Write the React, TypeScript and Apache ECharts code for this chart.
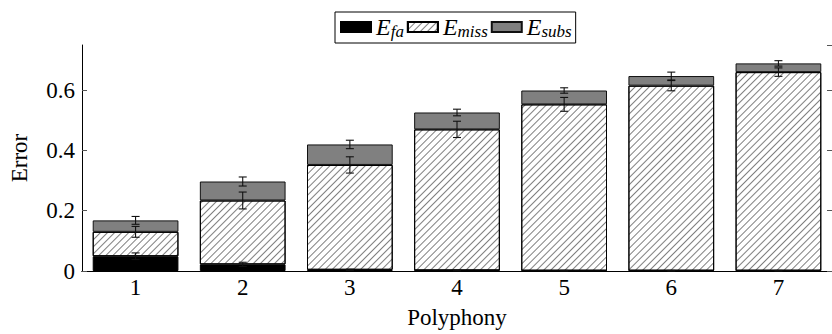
import React, { useEffect, useRef } from "react";
import * as echarts from "echarts";

const categories = ["1", "2", "3", "4", "5", "6", "7"];
// stacked segment values
const faValues = [0.049, 0.022, 0.004, 0.002, 0.001, 0.001, 0.001];
const missValues = [0.081, 0.212, 0.348, 0.468, 0.552, 0.614, 0.659];
const subsValues = [0.038, 0.063, 0.068, 0.056, 0.046, 0.032, 0.029];
// half-widths of the error bars at each stack top
const faErr = [0.011, 0.007, 0.002, 0.001, 0.001, 0.001, 0.001];
const missErr = [0.018, 0.028, 0.027, 0.027, 0.023, 0.017, 0.014];
const subsErr = [0.013, 0.015, 0.014, 0.011, 0.009, 0.013, 0.009];
const seriesNames = ["E_fa", "E_miss", "E_subs"];
const subscripts: Record<string, string> = { E_fa: "fa", E_miss: "miss", E_subs: "subs" };

const FONT = "'Liberation Serif', 'DejaVu Serif', serif";

export default function App() {
  const ref = useRef<HTMLDivElement>(null);
  useEffect(() => {
    if (!ref.current) return;
    const chart = echarts.init(ref.current, null, { renderer: "svg" });

    const errData: number[][] = [];
    categories.forEach((_, i) => {
      const t1 = faValues[i];
      const t2 = t1 + missValues[i];
      const t3 = t2 + subsValues[i];
      errData.push([i, t1 - faErr[i], t1 + faErr[i]]);
      errData.push([i, t2 - missErr[i], t2 + missErr[i]]);
      errData.push([i, t3 - subsErr[i], t3 + subsErr[i]]);
    });

    const barCommon = {
      type: "bar",
      stack: "total",
      barWidth: "80%",
      xAxisIndex: 0,
      yAxisIndex: 0,
    };

    chart.setOption({
      animation: false,
      textStyle: { fontFamily: FONT },
      grid: { left: 78, top: 45, height: 230, width: 759, containLabel: false },
      legend: {
        data: seriesNames,
        icon: "rect",
        left: 335,
        top: 12,
        padding: [3, 4, 3, 5],
        itemGap: 3,
        itemWidth: 30,
        itemHeight: 10,
        selectedMode: false,
        backgroundColor: "#fff",
        borderColor: "#000",
        borderWidth: 1,
        borderRadius: 0,
        z: 10,
        formatter: (name: string) => `{e|E}{s|${subscripts[name]}}`,
        textStyle: {
          fontFamily: FONT,
          color: "#000",
          rich: {
            e: { fontFamily: FONT, fontStyle: "italic", fontSize: 24, color: "#000" },
            s: { fontFamily: FONT, fontStyle: "italic", fontSize: 17, color: "#000", padding: [9, 0, 0, 0] },
          },
        },
      },
      xAxis: [
        {
          type: "category",
          data: categories,
          position: "bottom",
          name: "Polyphony",
          nameLocation: "middle",
          nameGap: 35,
          nameTextStyle: { fontFamily: FONT, fontSize: 23, color: "#000" },
          axisLine: { lineStyle: { color: "#000", width: 1 } },
          axisTick: { inside: true, alignWithLabel: true, length: 5, lineStyle: { color: "#555" } },
          axisLabel: { fontFamily: FONT, fontSize: 23, color: "#000", margin: 5 },
        },
        {
          type: "category",
          data: categories,
          position: "top",
          axisLine: { lineStyle: { color: "#000", width: 1 } },
          axisTick: { inside: true, alignWithLabel: true, length: 6, lineStyle: { color: "#555" } },
          axisLabel: { show: false },
        },
      ],
      yAxis: [
        {
          type: "value",
          min: 0,
          max: 0.75,
          interval: 0.2,
          name: "Error",
          nameLocation: "middle",
          nameGap: 51,
          nameTextStyle: { fontFamily: FONT, fontSize: 23, color: "#000" },
          axisLine: { show: true, lineStyle: { color: "#000", width: 1 } },
          axisTick: { show: true, inside: true, length: 5, lineStyle: { color: "#555" } },
          axisLabel: { fontFamily: FONT, fontSize: 23, color: "#000", margin: 7, showMaxLabel: false },
          splitLine: { show: false },
        },
        {
          type: "value",
          min: 0,
          max: 0.75,
          interval: 0.2,
          position: "right",
          axisLine: { show: true, lineStyle: { color: "#000", width: 1 } },
          axisTick: { show: true, inside: true, length: 5, lineStyle: { color: "#555" } },
          axisLabel: { show: false },
          splitLine: { show: false },
        },
      ],
      series: [
        {
          ...barCommon,
          name: "E_fa",
          data: faValues,
          itemStyle: { color: "#000", borderColor: "#000", borderWidth: 1 },
        },
        {
          ...barCommon,
          name: "E_miss",
          data: missValues,
          itemStyle: {
            color: "#fff",
            borderColor: "#000",
            borderWidth: 1,
            decal: {
              symbol: "rect",
              symbolSize: 1,
              color: "rgba(0,0,0,0.5)",
              dashArrayX: [1, 0],
              dashArrayY: [1, 3.3],
              rotation: -Math.PI / 4,
            },
          },
        },
        {
          ...barCommon,
          name: "E_subs",
          data: subsValues,
          itemStyle: { color: "#808080", borderColor: "#111", borderWidth: 1 },
        },
        {
          type: "custom",
          name: "err",
          xAxisIndex: 0,
          yAxisIndex: 0,
          z: 5,
          data: errData,
          encode: { x: 0, y: [1, 2] },
          renderItem: (params: any, api: any) => {
            const x = api.value(0);
            const p1 = api.coord([x, api.value(1)]);
            const p2 = api.coord([x, api.value(2)]);
            const w = 4;
            const st = { stroke: "#111", lineWidth: 1.1 };
            return {
              type: "group",
              children: [
                { type: "line", shape: { x1: p1[0], y1: p1[1], x2: p2[0], y2: p2[1] }, style: st },
                { type: "line", shape: { x1: p1[0] - w, y1: p1[1], x2: p1[0] + w, y2: p1[1] }, style: st },
                { type: "line", shape: { x1: p2[0] - w, y1: p2[1], x2: p2[0] + w, y2: p2[1] }, style: st },
              ],
            };
          },
        },
      ],
    });
    return () => chart.dispose();
  }, []);
  return (
    <div
      ref={ref}
      style={{ position: "fixed", left: 0, top: 0, width: 832, height: 334, background: "#fff" }}
    />
  );
}
